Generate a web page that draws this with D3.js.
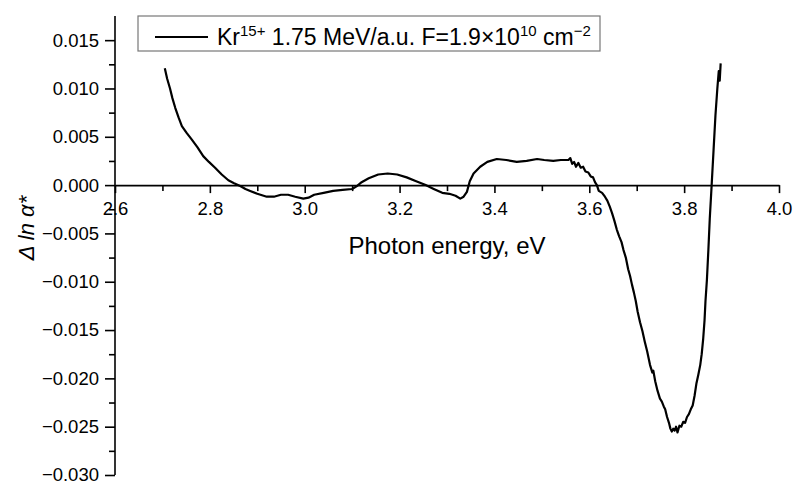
<!DOCTYPE html>
<meta charset="utf-8">
<html lang="en">
<head>
    <title>Kr15+ absorption change</title>
    <script type="text/javascript" src="https://d3js.org/d3.v7.min.js"></script>
</head>
<style>
    body { margin: 0; background: #fff; }
    text { font-family: "Liberation Sans", Arial, sans-serif; fill: #000; }
    .axis path, .axis line { stroke: #000; stroke-width: 1.6px; }
    .axis text { font-size: 18.5px; }
    .curve { fill: none; stroke: #000; stroke-width: 2.2px; stroke-linejoin: round; }
</style>
<body>
<script>
    // photon energy (eV) and delta ln alpha*
    var energy = [2.705, 2.710, 2.716, 2.721, 2.727, 2.734, 2.741, 2.751, 2.762, 2.774,
        2.786, 2.798, 2.811, 2.825, 2.839, 2.851, 2.864, 2.875, 2.885, 2.900,
        2.920, 2.935, 2.950, 2.965, 2.980, 2.997, 3.008, 3.020, 3.040, 3.060,
        3.080, 3.100, 3.110, 3.120, 3.135, 3.155, 3.175, 3.195, 3.215, 3.235,
        3.255, 3.272, 3.290, 3.305, 3.318, 3.328, 3.335, 3.342, 3.348, 3.356,
        3.370, 3.385, 3.405, 3.425, 3.447, 3.468, 3.490, 3.505, 3.524, 3.540,
        3.556, 3.560, 3.564, 3.568, 3.572, 3.577, 3.582, 3.587, 3.592, 3.598,
        3.603, 3.608, 3.612, 3.616, 3.620, 3.627, 3.633, 3.638, 3.643, 3.648,
        3.653, 3.658, 3.663, 3.668, 3.672, 3.677, 3.682, 3.686, 3.690, 3.694,
        3.698, 3.702, 3.707, 3.712, 3.717, 3.722, 3.728, 3.733, 3.735, 3.739,
        3.744, 3.749, 3.753, 3.757, 3.760, 3.764, 3.768, 3.771, 3.774, 3.777,
        3.780, 3.783, 3.786, 3.790, 3.794, 3.798, 3.802, 3.806, 3.810, 3.814,
        3.818, 3.822, 3.826, 3.830, 3.834, 3.837, 3.840, 3.843, 3.845, 3.848,
        3.851, 3.854, 3.858, 3.862, 3.866, 3.870, 3.873, 3.875, 3.877];
    var dlnAlpha = [0.0121, 0.0110, 0.0100, 0.0090, 0.0080, 0.0070, 0.0061, 0.0054, 0.0047, 0.0039,
        0.0030, 0.0024, 0.0018, 0.0011, 0.0005, 0.0002, -0.0001, -0.0004, -0.0006, -0.0009,
        -0.0012, -0.0012, -0.0010, -0.0010, -0.0012, -0.0014, -0.0013, -0.0010, -0.0008, -0.0006,
        -0.0005, -0.0004, -0.0001, 0.0003, 0.0007, 0.0011, 0.0012, 0.0011, 0.0008, 0.0004,
        0.0000, -0.0004, -0.0008, -0.0009, -0.0011, -0.0014, -0.0012, -0.0007, 0.0004, 0.0012,
        0.0019, 0.0024, 0.0027, 0.0026, 0.0024, 0.0025, 0.0027, 0.0026, 0.0025, 0.0026,
        0.0026, 0.0028, 0.0022, 0.0024, 0.0019, 0.0023, 0.0018, 0.0019, 0.0014, 0.0013,
        0.0009, 0.0008, 0.0003, 0.0000, -0.0006, -0.0008, -0.0012, -0.0016, -0.0022, -0.0029,
        -0.0037, -0.0046, -0.0053, -0.0059, -0.0067, -0.0075, -0.0087, -0.0094, -0.0103, -0.0111,
        -0.0120, -0.0131, -0.0142, -0.0151, -0.0162, -0.0172, -0.0186, -0.0194, -0.0192, -0.0203,
        -0.0213, -0.0221, -0.0224, -0.0229, -0.0232, -0.0240, -0.0246, -0.0252, -0.0255, -0.0252,
        -0.0254, -0.0250, -0.0256, -0.0249, -0.0250, -0.0245, -0.0246, -0.0240, -0.0237, -0.0232,
        -0.0228, -0.0218, -0.0205, -0.0196, -0.0186, -0.0175, -0.0160, -0.0140, -0.0120, -0.0098,
        -0.0068, -0.0035, 0.0000, 0.0036, 0.0072, 0.0100, 0.0118, 0.0108, 0.0126];

    var xTicks = [2.6, 2.8, 3.0, 3.2, 3.4, 3.6, 3.8, 4.0];
    var xMinor = [2.7, 2.9, 3.1, 3.3, 3.5, 3.7, 3.9];
    var yTicks = [-0.030, -0.025, -0.020, -0.015, -0.010, -0.005, 0.000, 0.005, 0.010, 0.015];
    var yMinor = [-0.0275, -0.0225, -0.0175, -0.0125, -0.0075, -0.0025, 0.0025, 0.0075, 0.0125];

    var data = energy.map((e, i) => ({x: e, y: dlnAlpha[i]}));

    var svg = d3.select("body").append("svg").attr("width", 794).attr("height", 486);

    var x = d3.scaleLinear().domain([2.6, 4.0]).range([115, 779]);
    var y = d3.scaleLinear().domain([-0.030, 0.0175]).range([475, 16]);

    // minor ticks first, then major axes on top
    svg.append("g").attr("class", "axis")
        .attr("transform", "translate(115,0)")
        .call(d3.axisLeft(y).tickValues(yMinor).tickSize(6).tickFormat(""))
        .select(".domain").remove();
    svg.append("g").attr("class", "axis")
        .attr("transform", "translate(0," + y(0) + ")")
        .call(d3.axisBottom(x).tickValues(xMinor).tickSize(6).tickFormat(""))
        .select(".domain").remove();

    var yAxis = svg.append("g").attr("class", "axis")
        .attr("transform", "translate(115,0)")
        .call(d3.axisLeft(y).tickValues(yTicks).tickSize(10).tickPadding(6)
            .tickFormat(d3.format(".3f")).tickSizeOuter(0));
    yAxis.select(".domain").attr("d", "M0," + y(0.0175) + "V" + y(-0.030));

    svg.append("g").attr("class", "axis")
        .attr("transform", "translate(0," + y(0) + ")")
        .call(d3.axisBottom(x).tickValues(xTicks).tickSize(8).tickPadding(9)
            .tickFormat(d3.format(".1f")).tickSizeOuter(0));

    svg.append("path").datum(data)
        .attr("class", "curve")
        .attr("d", d3.line().x(d => x(d.x)).y(d => y(d.y)));

    // axis titles
    svg.append("text").attr("x", 447).attr("y", 254)
        .style("text-anchor", "middle").style("font-size", "24px")
        .text("Photon energy, eV");

    svg.append("text")
        .attr("transform", "translate(34,228) rotate(-90)")
        .style("text-anchor", "middle").style("font-size", "22px").style("font-style", "italic")
        .text("\u0394 ln \u03b1*");

    // legend
    var lg = svg.append("g");
    lg.append("rect").attr("x", 138).attr("y", 16).attr("width", 462).attr("height", 35)
        .attr("fill", "#fff").attr("stroke", "#777").attr("stroke-width", 1.2);
    lg.append("line").attr("x1", 155).attr("x2", 208).attr("y1", 37).attr("y2", 37)
        .attr("stroke", "#000").attr("stroke-width", 2.2);
    var lt = lg.append("text").attr("x", 217).attr("y", 45).style("font-size", "23px");
    lt.append("tspan").text("Kr");
    lt.append("tspan").attr("dy", -9).style("font-size", "15px").text("15+");
    lt.append("tspan").attr("dy", 9).text(" 1.75 MeV/a.u. F=1.9\u00d710");
    lt.append("tspan").attr("dy", -9).style("font-size", "15px").text("10");
    lt.append("tspan").attr("dy", 9).text(" cm");
    lt.append("tspan").attr("dy", -9).style("font-size", "15px").text("\u22122");
</script>
</body>
</html>
